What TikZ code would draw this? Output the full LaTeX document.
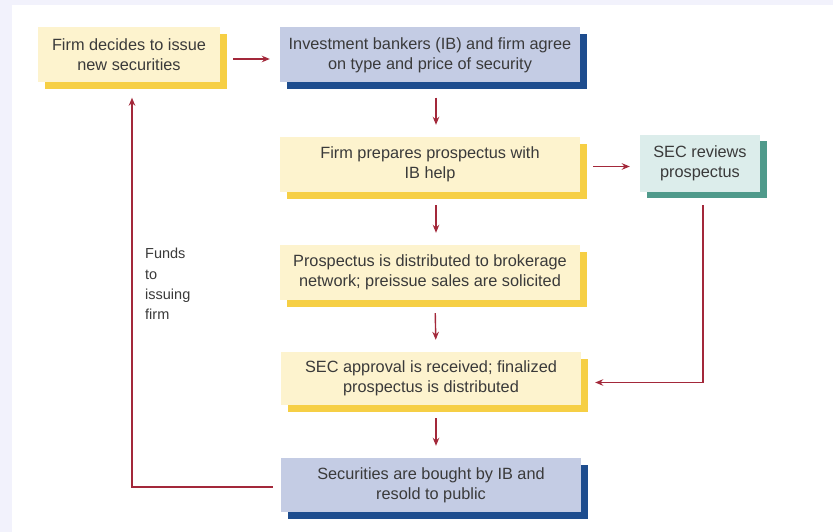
\documentclass[tikz,border=0pt]{standalone}
\usepackage{fontspec}
\setmainfont{Liberation Sans}
\usetikzlibrary{shadows,arrows.meta,calc}

\definecolor{pagebg}{HTML}{F2F2FC}
\definecolor{yface}{HTML}{FDF3CE}
\definecolor{yedge}{HTML}{F6CF45}
\definecolor{bface}{HTML}{C4CCE4}
\definecolor{bedge}{HTML}{1E4D8E}
\definecolor{tface}{HTML}{DCEDEB}
\definecolor{tedge}{HTML}{4F9A8B}
\definecolor{flow}{HTML}{A3283A}
\definecolor{ink}{HTML}{3A3A3A}

\tikzset{
  x=1pt, y=-1pt,
  stepbox/.style={
    minimum height=55pt, inner sep=0pt, align=center,
    text=ink, font=\fontsize{16.3}{20}\selectfont
  },
  yellowbox/.style={stepbox, fill=yface,
    drop shadow={fill=yedge, opacity=1, shadow xshift=7pt, shadow yshift=-7pt}},
  bluebox/.style={stepbox, fill=bface,
    drop shadow={fill=bedge, opacity=1, shadow xshift=7pt, shadow yshift=-7pt}},
  tealbox/.style={stepbox, fill=tface,
    drop shadow={fill=tedge, opacity=1, shadow xshift=7pt, shadow yshift=-6pt}},
  flowline/.style={draw=flow, line width=1.4pt,
    -{Stealth[length=8pt, width=6.5pt]}},
}

\begin{document}
\begin{tikzpicture}
  % page background with a pale frame along the top and left
  \fill[pagebg] (0,0) rectangle (833,532);
  \fill[white] (12,5) rectangle (833,532);
  \useasboundingbox (0,0) rectangle (833,532);

  % process steps
  \node[yellowbox, minimum width=182pt] (decide) at (129,55)
    {Firm decides to issue\\new securities};
  \node[bluebox, minimum width=300pt] (agree) at (430,55)
    {Investment bankers (IB) and firm agree\\on type and price of security};
  \node[yellowbox, minimum width=300pt] (prep) at (430,164.5)
    {Firm prepares prospectus with\\IB help};
  \node[tealbox, minimum width=120pt, minimum height=57pt] (sec) at (700,163.5)
    {SEC reviews\\prospectus};
  \node[yellowbox, minimum width=300pt] (dist) at (430,272.5)
    {Prospectus is distributed to brokerage\\network; preissue sales are solicited};
  \node[yellowbox, minimum width=300pt, minimum height=53pt] (approve) at (431,378.5)
    {SEC approval is received; finalized\\prospectus is distributed};
  \node[bluebox, minimum width=300pt, minimum height=54pt] (resell) at (431,485)
    {Securities are bought by IB and\\resold to public};

  % side label of the return path
  \node[anchor=north west, align=left, inner sep=0pt, text=ink,
        font=\fontsize{14.5}{20.3}\selectfont] (funds) at (145,248)
    {Funds\\to\\issuing\\firm};

  % connectors
  \draw[flowline, shorten <=13pt, shorten >=10pt]
    ([yshift=-4pt]decide.east) -- ([yshift=-4pt]agree.west);
  \draw[flowline, shorten <=15pt, shorten >=12pt]
    ([xshift=6pt]agree.south) -- ([xshift=6pt]prep.north);
  \draw[flowline, shorten <=13pt, shorten >=10pt]
    ([yshift=-2pt]prep.east) -- ([yshift=-2pt]prep.east -| sec.west);
  \draw[flowline, shorten <=13pt, shorten >=12pt]
    ([xshift=6pt]prep.south) -- ([xshift=6pt]dist.north);
  \draw[flowline, shorten <=13pt, shorten >=12pt]
    ([xshift=5pt]dist.south) -- ([xshift=5pt]approve.north);
  \draw[flowline, shorten <=13pt, shorten >=12pt]
    ([xshift=5pt]approve.south) -- ([xshift=5pt]resell.north);
  \draw[flowline, shorten >=14pt]
    ([xshift=3pt, yshift=-13pt]sec.south) |- ([yshift=-4pt]approve.east);
  \draw[flowline, shorten <=8pt, shorten >=15pt]
    ([yshift=-2pt]resell.west) -| ([xshift=3pt]decide.south);
\end{tikzpicture}
\end{document}
